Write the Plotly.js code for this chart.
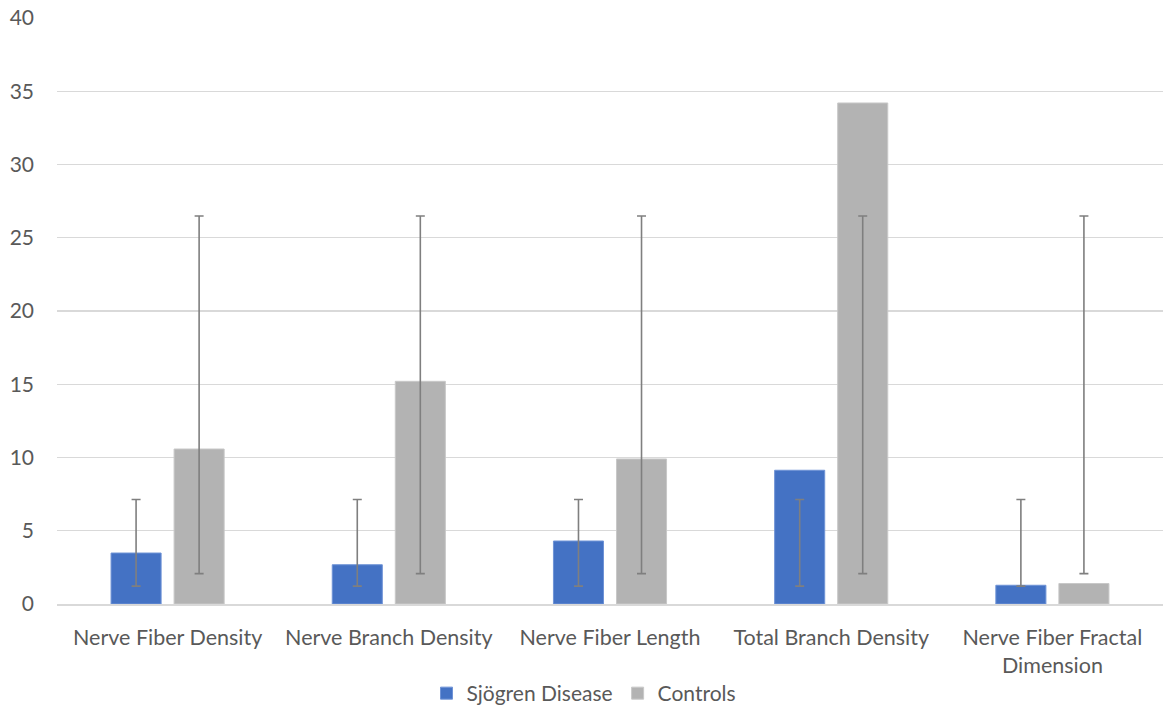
<!DOCTYPE html>
<html><head><meta charset="utf-8">
<script src="https://cdn.plot.ly/plotly-3.0.1.min.js"></script>
<style>html,body{margin:0;padding:0;background:#fff}#chart{width:1168px;height:712px}</style>
</head><body><div id="chart"></div>
<script>
const categories = ["Nerve Fiber Density", "Nerve Branch Density", "Nerve Fiber Length", "Total Branch Density", "Nerve Fiber Fractal<br>Dimension"];
const sjogrenValues = [3.48, 2.68, 4.3, 9.13, 1.28];
const controlValues = [10.58, 15.2, 9.9, 34.2, 1.4];
const sjogrenErrLow = [1.22, 1.22, 1.22, 1.22, 1.22];
const sjogrenErrHigh = [7.13, 7.13, 7.13, 7.13, 7.13];
const controlErrLow = [2.07, 2.07, 2.07, 2.07, 2.07];
const controlErrHigh = [26.48, 26.48, 26.48, 26.48, 26.48];
const yTicks = [0, 5, 10, 15, 20, 25, 30, 35, 40];

const font = "Lato, 'Open Sans', sans-serif";
function errBar(vals, lo, hi) {
  return {type: 'data', symmetric: false,
    array: vals.map((v, i) => hi[i] - v),
    arrayminus: vals.map((v, i) => v - lo[i]),
    color: '#7f7f7f', thickness: 1.6, width: 4.5};
}
const traces = [
  {type: 'bar', name: 'Sjögren Disease', x: categories, y: sjogrenValues,
   marker: {color: '#4472C4', line: {color: '#6f93d6', width: 1}},
   error_y: errBar(sjogrenValues, sjogrenErrLow, sjogrenErrHigh), hoverinfo: 'y'},
  {type: 'bar', name: 'Controls', x: categories, y: controlValues,
   marker: {color: '#b3b3b3', line: {color: '#c8c8c8', width: 1}},
   error_y: errBar(controlValues, controlErrLow, controlErrHigh), hoverinfo: 'y'}
];
const layout = {
  width: 1168, height: 712,
  margin: {l: 57, r: 5, t: 18, b: 108, autoexpand: false},
  paper_bgcolor: '#fff', plot_bgcolor: '#fff',
  barmode: 'group', bargap: 0.43, bargroupgap: 0.206,
  font: {family: font, size: 21, color: '#595959'},
  showlegend: true,
  legend: {orientation: 'h', x: 0.5, xref: 'container', xanchor: 'center', y: 0.026, yref: 'container', yanchor: 'middle',
    font: {family: font, size: 21, color: '#595959'}, itemwidth: 30, tracegroupgap: 0},
  xaxis: {showgrid: false, showline: true, linecolor: '#d9d9d9', linewidth: 1.5, automargin: false,
    ticks: '', ticklabelstandoff: 14, tickfont: {family: font, size: 21.5, color: '#595959'}, zeroline: false, fixedrange: true},
  yaxis: {range: [0, 40], tickvals: yTicks, showgrid: true, gridcolor: '#d9d9d9', gridwidth: 1.3, automargin: false,
    zeroline: false, showline: false, ticks: '', ticklabelstandoff: 22,
    tickfont: {family: font, size: 21, color: '#595959'}, fixedrange: true}
};
Plotly.newPlot('chart', traces, layout, {displayModeBar: false, staticPlot: true});
</script></body></html>
